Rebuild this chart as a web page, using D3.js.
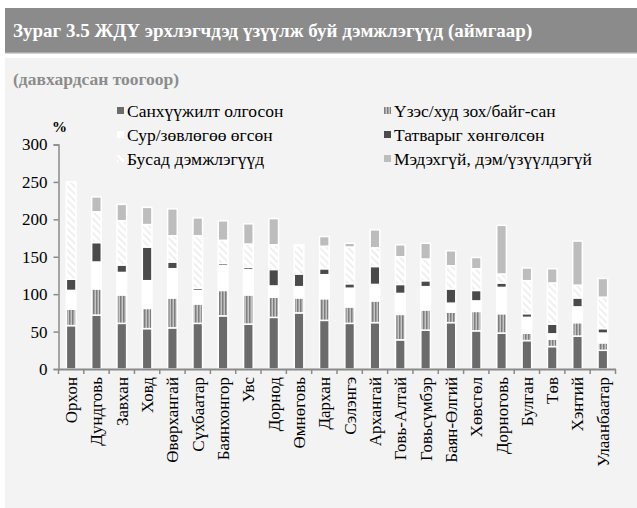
<!DOCTYPE html>
<html>
<head>
<meta charset="utf-8">
<script src="https://cdn.jsdelivr.net/npm/d3@7"></script>
<style>
  html, body { margin: 0; padding: 0; background: #ffffff; }
  svg { display: block; }
  svg text { font-family: "Times New Roman", "Liberation Serif", "Noto Serif", "DejaVu Serif", serif; }
</style>
</head>
<body>
<svg id="chart" width="637" height="508"></svg>
<script>
// Aimags (provinces), left to right
const aimags = ["Орхон", "Дундговь", "Завхан", "Ховд", "Өвөрхангай", "Сүхбаатар", "Баянхонгор",
  "Увс", "Дорнод", "Өмнөговь", "Дархан", "Сэлэнгэ", "Архангай", "Говь-Алтай", "Говьсүмбэр",
  "Баян-Өлгий", "Хөвсгөл", "Дорноговь", "Булган", "Төв", "Хэнтий", "Улаанбаатар"];

// Support types, stacked bottom to top
const seriesNames = ["Санхүүжилт олгосон", "Үзэс/худ зох/байг-сан", "Сур/зөвлөгөө өгсөн",
  "Татварыг хөнгөлсөн", "Бусад дэмжлэгүүд", "Мэдэхгүй, дэм/үзүүлдэгүй"];

// Values per series, one entry per aimag (multiple responses counted, %)
const financing = [58, 72, 61, 54, 55, 61, 71, 60, 69, 75, 65, 61, 62, 39, 52, 62, 51, 48, 38, 30, 44, 25];
const exhibitions = [22, 35, 38, 27, 40, 26, 34, 39, 27, 20, 29, 22, 29, 34, 27, 14, 26, 26, 10, 10, 18, 10];
const training = [25, 36, 30, 37, 39, 18, 33, 34, 15, 15, 32, 25, 22, 28, 31, 12, 14, 35, 21, 7, 21, 13];
const taxRelief = [15, 26, 10, 45, 9, 3, 3, 3, 22, 17, 8, 6, 24, 12, 8, 19, 14, 6, 5, 13, 12, 6];
const otherSupport = [130, 41, 59, 30, 35, 70, 31, 31, 33, 37, 30, 49, 25, 37, 29, 31, 29, 12, 44, 55, 17, 42];
const dontKnow = [0, 20, 22, 23, 36, 24, 26, 27, 35, 2, 13, 5, 24, 16, 21, 20, 15, 65, 17, 19, 59, 25];

const yTicks = [0, 50, 100, 150, 200, 250, 300];

const seriesValues = [financing, exhibitions, training, taxRelief, otherSupport, dontKnow];
const rows = aimags.map((name, i) => {
  const r = { name };
  seriesNames.forEach((s, k) => { r[s] = seriesValues[k][i]; });
  return r;
});

const svg = d3.select("#chart");

// Patterns: vertical stripes and light diagonal hatch
const defs = svg.append("defs");
const stripes = defs.append("pattern").attr("id", "stripes")
  .attr("patternUnits", "userSpaceOnUse").attr("width", 3).attr("height", 6);
stripes.append("rect").attr("width", 3).attr("height", 6).attr("fill", "#c4c4c4");
stripes.append("rect").attr("x", 0).attr("width", 1.5).attr("height", 6).attr("fill", "#7e7e7e");

const hatch = defs.append("pattern").attr("id", "hatch")
  .attr("patternUnits", "userSpaceOnUse").attr("width", 5).attr("height", 5)
  .attr("patternTransform", "rotate(-45)");
hatch.append("rect").attr("width", 5).attr("height", 5).attr("fill", "#ffffff");
hatch.append("rect").attr("width", 1.6).attr("height", 5).attr("fill", "#ececec");

const fills = ["#6b6b6b", "url(#stripes)", "#ffffff", "#4b4b4b", "url(#hatch)", "#bdbdbd"];

// Backgrounds
svg.append("rect").attr("x", 5).attr("y", 8).attr("width", 632).attr("height", 45).attr("fill", "#8b8b8b");
svg.append("rect").attr("x", 5).attr("y", 52).attr("width", 632).attr("height", 1.5).attr("fill", "#a9a9a9");
svg.append("rect").attr("x", 5).attr("y", 58).attr("width", 632).attr("height", 450).attr("fill", "#f3f3f3");

svg.append("text").attr("x", 13).attr("y", 37)
  .attr("font-weight", "bold").attr("font-size", 19)
  .attr("fill", "#ffffff")
  .text("Зураг 3.5 ЖДҮ эрхлэгчдэд үзүүлж буй дэмжлэгүүд (аймгаар)");

svg.append("text").attr("x", 13).attr("y", 85)
  .attr("font-weight", "bold").attr("font-size", 17.5)
  .attr("fill", "#8c8c8c")
  .text("(давхардсан тоогоор)");

// Scales
const plotLeft = 58.5, plotRight = 615.5, plotBottom = 369, plotTop = 144.5;
const xAxisScale = d3.scaleBand().domain(aimags).range([plotLeft, plotRight]).padding(0);
const x = d3.scaleBand().domain(aimags).range([plotLeft, plotRight])
  .paddingInner(0.62).paddingOuter(0.31);
const y = d3.scaleLinear().domain([0, 300]).range([plotBottom, plotTop]);

// Stacked bars
const stack = d3.stack().keys(seriesNames)(rows);
const g = svg.append("g");
stack.forEach((layer, k) => {
  g.append("g").selectAll("rect").data(layer.filter(d => d[1] - d[0] > 0)).join("rect")
    .attr("x", d => x(d.data.name))
    .attr("width", x.bandwidth())
    .attr("y", d => y(d[1]))
    .attr("height", d => y(d[0]) - y(d[1]))
    .attr("fill", fills[k])
    .attr("stroke", "#ffffff")
    .attr("stroke-width", 1.5);
});

// Y axis
const axisColor = "#8a8a8a";
const yAxis = svg.append("g").attr("transform", `translate(${plotLeft},0)`)
  .call(d3.axisLeft(y).tickValues(yTicks).tickSize(5).tickPadding(6));
yAxis.attr("font-family", null);
yAxis.select(".domain").attr("stroke", axisColor).attr("stroke-width", 1.5);
yAxis.selectAll(".tick line").attr("stroke", axisColor).attr("stroke-width", 1.5);
yAxis.selectAll(".tick text").attr("font-size", 17).attr("fill", "#000");

svg.append("text").attr("x", 52).attr("y", 132)
  .attr("font-weight", "bold").attr("font-size", 15)
  .text("%");

// X axis: labels at band centres, ticks at band boundaries
const xAxis = svg.append("g").attr("transform", `translate(0,${plotBottom})`)
  .call(d3.axisBottom(xAxisScale).tickSize(0).tickPadding(0));
xAxis.attr("font-family", null);
xAxis.select(".domain").attr("stroke", axisColor).attr("stroke-width", 2);
xAxis.selectAll(".tick text")
  .attr("font-size", 17).attr("fill", "#000")
  .attr("transform", "rotate(-90)")
  .attr("text-anchor", "end")
  .attr("x", -8).attr("y", 0).attr("dy", "0.35em");
const boundaries = aimags.map(a => xAxisScale(a)).concat([plotRight]);
svg.append("g").selectAll("line").data(boundaries).join("line")
  .attr("x1", d => d).attr("x2", d => d)
  .attr("y1", plotBottom).attr("y2", plotBottom + 5)
  .attr("stroke", axisColor).attr("stroke-width", 1.5);

// Legend
const legendCols = [117, 384];
const legendRows = [111, 135, 159];
const legendOrder = [[0, 0], [1, 0], [0, 1], [1, 1], [0, 2], [1, 2]];
const lg = svg.append("g");
seriesNames.forEach((name, k) => {
  const [c, r] = legendOrder[k];
  const lx = legendCols[c], ly = legendRows[r];
  lg.append("rect").attr("x", lx).attr("y", ly - 4).attr("width", 7).attr("height", 7)
    .attr("fill", fills[k]);
  lg.append("text").attr("x", lx + 10).attr("y", ly).attr("dy", "0.35em")
    .attr("font-size", 17.5).attr("fill", "#000")
    .text(name);
});
</script>
</body>
</html>
